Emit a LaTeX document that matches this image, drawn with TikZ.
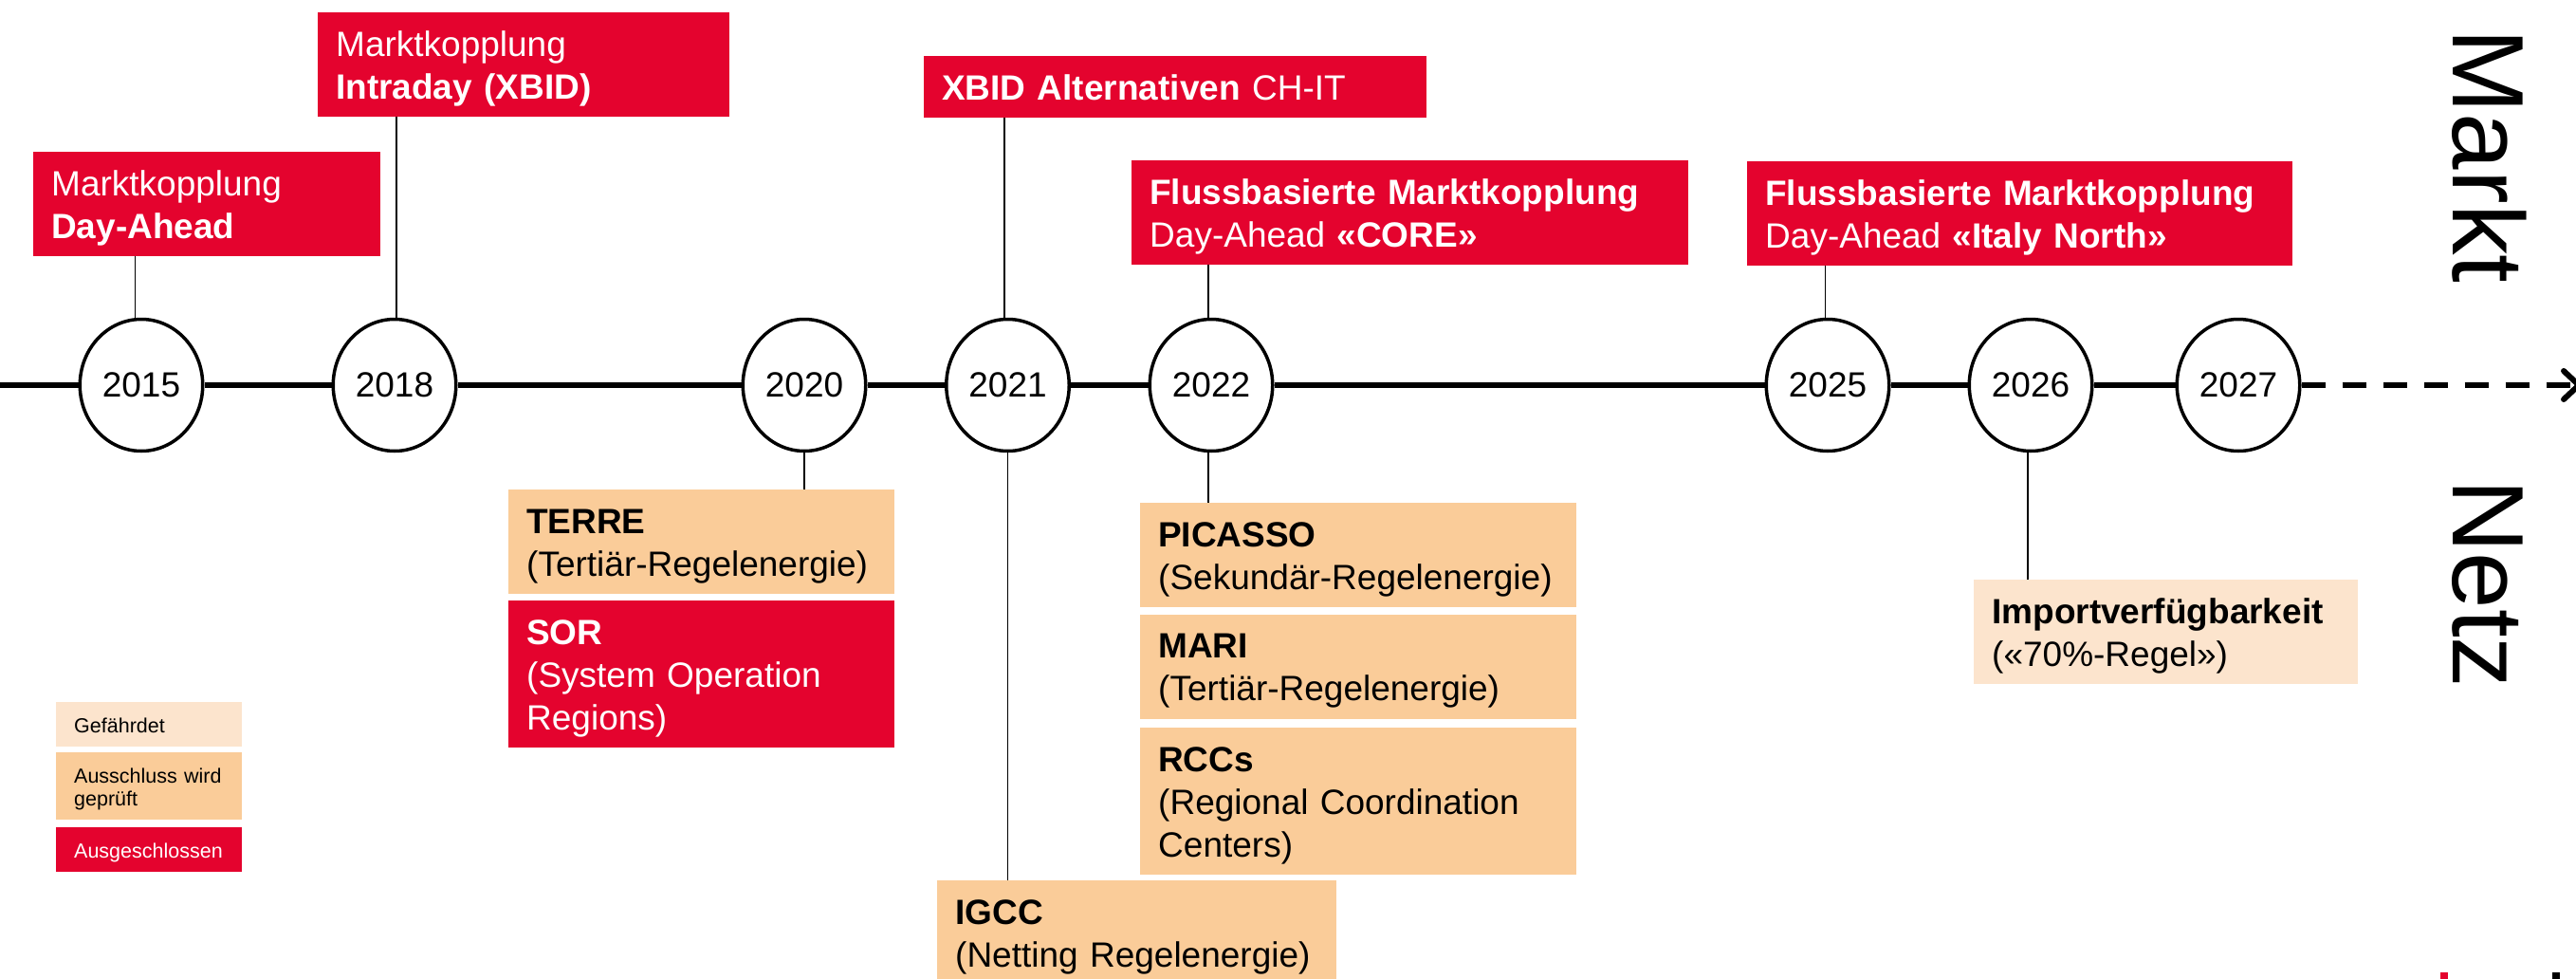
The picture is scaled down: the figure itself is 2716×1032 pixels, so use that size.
\documentclass[tikz,border=0pt]{standalone}
\usepackage{fontspec}
\setmainfont{Liberation Sans}
\usetikzlibrary{shapes.geometric,arrows.meta}
\definecolor{ecred}{HTML}{E4032E}
\definecolor{ecorange}{HTML}{FACC99}
\definecolor{eclight}{HTML}{FCE4CD}
\newcommand\mytop{\rule{0pt}{46pt}}
\newcommand\mybot{\rule[-19pt]{0pt}{19pt}}
\newcommand\lgtop{\rule{0pt}{32pt}}
\newcommand\lgbot{\rule[-15pt]{0pt}{15pt}}
\begin{document}
\begin{tikzpicture}[x=1pt,y=-1pt,
  box/.style={anchor=north west, inner xsep=19pt, inner ysep=0pt, align=left, font=\fontsize{37pt}{45pt}\selectfont},
  redbox/.style={box, fill=ecred, text=white},
  orbox/.style={box, fill=ecorange, text=black},
  ltbox/.style={box, fill=eclight, text=black},
  year/.style={ellipse, draw=black, line width=3.5pt, fill=white, minimum width=129.5pt, minimum height=139pt, inner sep=0pt, font=\fontsize{37pt}{44pt}\selectfont},
  conn/.style={draw=black, line width=1.6pt},
  timeline/.style={draw=black, line width=6pt},
  legend/.style={anchor=north west, inner xsep=19pt, inner ysep=0pt, align=left, text width=158pt, font=\fontsize{21.5pt}{24pt}\selectfont},
  side/.style={rotate=-90, anchor=base, inner sep=0pt, font=\fontsize{107pt}{120pt}\selectfont}
]
\useasboundingbox (0,0) rectangle (2716,1032);
\clip (0,0) rectangle (2716,1032);

% year ellipses
\node[year] (e2015) at (149,406) {2015};
\node[year] (e2018) at (416,406) {2018};
\node[year] (e2020) at (848,406) {2020};
\node[year] (e2021) at (1062.5,406) {2021};
\node[year] (e2022) at (1277,406) {2022};
\node[year] (e2025) at (1927,406) {2025};
\node[year] (e2026) at (2141,406) {2026};
\node[year] (e2027) at (2360,406) {2027};

% timeline
\coordinate (tstart) at (-10,406);
\coordinate (tend) at (2722,406);
\draw[timeline] (tstart) -- (e2015) -- (e2018) -- (e2020) -- (e2021) -- (e2022) -- (e2025) -- (e2026) -- (e2027);
\draw[timeline, dash pattern=on 25pt off 18pt, -{Straight Barb[length=16pt,width=30pt,line cap=round,line join=round]}] (e2027) -- (tend);

% Markt boxes
\node[redbox, text width=328pt] (b2015) at (35,160) {\mytop Marktkopplung\\\textbf{Day-Ahead}\mybot};
\node[redbox, text width=396pt] (b2018) at (335,13) {\mytop Marktkopplung\\\textbf{Intraday (XBID)}\mybot};
\node[redbox, text width=492pt] (b2021) at (974,59) {\mytop\textbf{XBID Alternativen} CH-IT\mybot};
\node[redbox, text width=549pt] (b2022) at (1193,169) {\mytop\textbf{Flussbasierte Marktkopplung}\\Day-Ahead \textbf{«CORE»}\mybot};
\node[redbox, text width=537pt] (b2025) at (1842,170) {\mytop\textbf{Flussbasierte Marktkopplung}\\Day-Ahead \textbf{«Italy North»}\mybot};

% Netz boxes
\node[orbox, text width=369pt] (terre) at (536,516) {\mytop\textbf{TERRE}\\(Tertiär-Regelenergie)\mybot};
\node[redbox, text width=369pt] (sor) at (536,633) {\mytop\textbf{SOR}\\(System Operation\\Regions)\mybot};
\node[orbox, text width=383pt] (igcc) at (988,928) {\mytop\textbf{IGCC}\\(Netting Regelenergie)\mybot};
\node[orbox, text width=422pt] (picasso) at (1202,530) {\mytop\textbf{PICASSO}\\(Sekundär-Regelenergie)\mybot};
\node[orbox, text width=422pt] (mari) at (1202,647.5) {\mytop\textbf{MARI}\\(Tertiär-Regelenergie)\mybot};
\node[orbox, text width=422pt] (rccs) at (1202,767) {\mytop\textbf{RCCs}\\(Regional Coordination\\Centers)\mybot};
\node[ltbox, text width=367pt] (import) at (2081,611) {\mytop\textbf{Importverfügbarkeit}\\(«70\%-Regel»)\mybot};

% connectors
\draw[conn] ([xshift=-6.5pt]e2015.north) -- ([xshift=-6.5pt]e2015.north |- b2015.south);
\draw[conn] ([xshift=2pt]e2018.north) -- ([xshift=2pt]e2018.north |- b2018.south);
\draw[conn] ([xshift=-3.5pt]e2021.north) -- ([xshift=-3.5pt]e2021.north |- b2021.south);
\draw[conn] ([xshift=-3pt]e2022.north) -- ([xshift=-3pt]e2022.north |- b2022.south);
\draw[conn] ([xshift=-2.5pt]e2025.north) -- ([xshift=-2.5pt]e2025.north |- b2025.south);
\draw[conn] (e2020.south) -- (e2020.south |- terre.north);
\draw[conn] (e2021.south) -- (e2021.south |- igcc.north);
\draw[conn] ([xshift=-3pt]e2022.south) -- ([xshift=-3pt]e2022.south |- picasso.north);
\draw[conn] ([xshift=-3pt]e2026.south) -- ([xshift=-3pt]e2026.south |- import.north);

% side labels
\node[side] (markt) at (2586,164.5) {Markt};
\node[side] (netz) at (2586,615.5) {Netz};

% legend
\node[legend, fill=eclight, text=black] (lg1) at (59,740) {\lgtop Gefährdet\lgbot};
\node[legend, fill=ecorange, text=black] (lg2) at (59,793) {\lgtop Ausschluss wird\\geprüft\lgbot};
\node[legend, fill=ecred, text=white] (lg3) at (59,872) {\lgtop Ausgeschlossen\lgbot};

% cropped logo fragments at the lower edge
\fill[ecred] (2572.5,1025) rectangle (2580.5,1036);
\fill[black] (2691,1025) rectangle (2699,1036);
\end{tikzpicture}
\end{document}
